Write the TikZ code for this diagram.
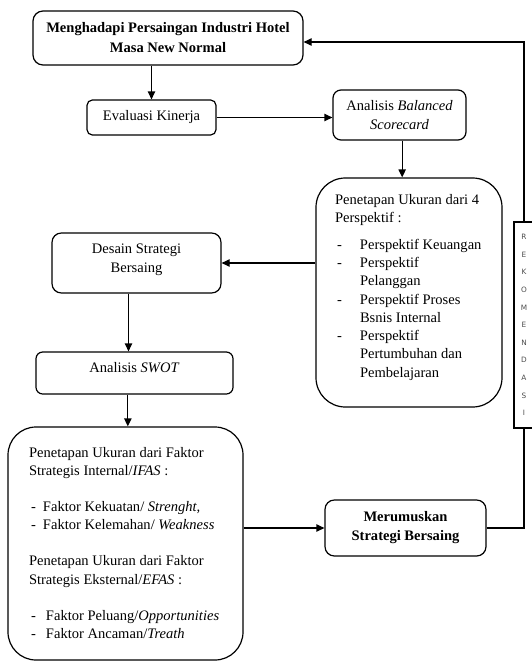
\documentclass[tikz,border=0pt]{standalone}
\usepackage{fontspec}
\setmainfont{Liberation Serif}
\newfontfamily\rekfont{DejaVu Sans}
\usetikzlibrary{arrows.meta}
\newcommand{\dashitem}[2][18.75pt]{\makebox[#1][l]{\hspace{1.5pt}-}#2\par}
\newcommand{\dashcont}[2][18.75pt]{\hspace*{#1}#2\par}
\begin{document}
\begin{tikzpicture}[x=0.75pt,y=-0.75pt,
    box/.style={draw,line width=0.9pt,rounded corners=6pt,inner sep=0pt,align=center,
      font=\fontsize{10.9}{14}\selectfont},
    bigbox/.style={draw,line width=0.9pt,rounded corners=21pt,inner sep=0pt},
    arr/.style={line width=0.9pt,-{Triangle[length=6pt,width=5.5pt]}}]
  \useasboundingbox (0,0) rectangle (532,661);
  % boxes
  \node[box,font=\bfseries\fontsize{10.9}{15}\selectfont,minimum width=202.5pt,minimum height=40.5pt,rounded corners=7.5pt] (hotel) at (168,38) {Menghadapi Persaingan Industri Hotel\\Masa New Normal};
  \node[box,minimum width=96.75pt,minimum height=26.25pt,rounded corners=4pt] (eval) at (151.5,117.5) {Evaluasi Kinerja};
  \node[box,minimum width=99.75pt,minimum height=37.5pt] (bsc) at (399.5,115) {Analisis \textit{Balanced}\\\textit{Scorecard}};
  \node[bigbox,rounded corners=22pt] (persp) at (409,292.5) {\begin{minipage}[c][171.75pt][t]{139.5pt}
      \fontsize{10.9}{13.7}\selectfont\leftskip=14.25pt\rightskip=0pt plus 1fil
      \vspace*{12pt}
      Penetapan Ukuran dari 4\par
      Perspektif :\par
      \vspace{6.5pt}
      \dashitem{Perspektif Keuangan}
      \dashitem{Perspektif}
      \dashcont{Pelanggan}
      \dashitem{Perspektif Proses}
      \dashcont{Bsnis Internal}
      \dashitem{Perspektif}
      \dashcont{Pertumbuhan dan}
      \dashcont{Pembelajaran}
    \end{minipage}};
  \node[box,minimum width=126.75pt,minimum height=45pt,rounded corners=7pt,text depth=7pt] (desain) at (136.5,263) {Desain Strategi\\Bersaing};
  \node[box,minimum width=147.75pt,minimum height=31.5pt,rounded corners=5pt,text depth=9pt] (swot) at (134.5,373) {Analisis \textit{SWOT}};
  \node[bigbox] (ifas) at (125.5,543.5) {\begin{minipage}[c][174.75pt][t]{176.25pt}
      \fontsize{10.9}{13.6}\selectfont\leftskip=15.75pt\rightskip=0pt plus 1fil
      \vspace*{15pt}
      Penetapan Ukuran dari Faktor\par
      Strategis Internal/\textit{IFAS} :\par
      \vspace{13.6pt}
      \dashitem[10.5pt]{Faktor Kekuatan/ \textit{Strenght,}}
      \dashitem[10.5pt]{Faktor Kelemahan/ \textit{Weakness}}
      \vspace{13.6pt}
      Penetapan Ukuran dari Faktor\par
      Strategis Eksternal/\textit{EFAS} :\par
      \vspace{13.6pt}
      \dashitem[12.75pt]{Faktor Peluang/\textit{Opportunities}}
      \dashitem[12.75pt]{Faktor Ancaman/\textit{Treath}}
    \end{minipage}};
  \node[box,font=\bfseries\fontsize{10.9}{14.25}\selectfont,minimum width=120.75pt,minimum height=42pt,rounded corners=7pt] (meru) at (405.5,528) {Merumuskan\\Strategi Bersaing};
  \node[draw,line width=0.9pt,minimum width=15pt,minimum height=154.5pt,inner sep=0pt,align=center,
    font=\rekfont\fontsize{5.5}{13.2}\selectfont,text=black!70] (rek) at (524,325) {R\\E\\K\\O\\M\\E\\N\\D\\A\\S\\I};
  % arrows
  \draw[arr] (hotel.south -| eval.north) -- (eval.north);
  \draw[arr] (eval.east) -- (eval.east -| bsc.west);
  \draw[arr] ([xshift=2pt]bsc.south) -- ([xshift=2pt]bsc.south |- persp.north);
  \draw[arr] (persp.west |- desain.east) -- (desain.east);
  \draw[arr] ([xshift=-6pt]desain.south) -- ([xshift=-6pt]desain.south |- swot.north);
  \draw[arr] ([xshift=-5pt]swot.south) -- ([xshift=-5pt]swot.south |- ifas.north);
  \draw[arr] (ifas.east |- meru.west) -- (meru.west);
  \draw[line width=0.9pt] (meru.east) -| (rek.south);
  \draw[arr] (rek.north) |- ([yshift=-3pt]hotel.east);
\end{tikzpicture}
\end{document}
